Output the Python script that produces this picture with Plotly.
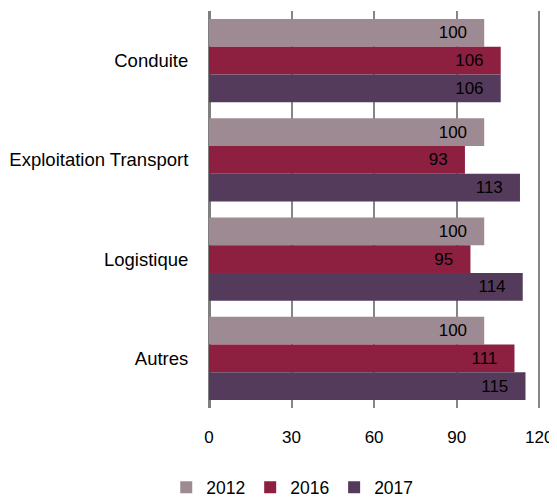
import plotly.graph_objects as go

categories = ["Conduite", "Exploitation Transport", "Logistique", "Autres"]
years = ["2012", "2016", "2017"]
values_2012 = [100, 100, 100, 100]
values_2016 = [106, 93, 95, 111]
values_2017 = [106, 113, 114, 115]
colors = ["#9e8a92", "#8d2041", "#553b5b"]
x_ticks = [0, 30, 60, 90, 120]

series = [values_2012, values_2016, values_2017]
pad = "\u00a0\u00a0\u00a0"
FONT = "Liberation Sans, Arial"

fig = go.Figure()
for name, vals, col in zip(years, series, colors):
    fig.add_trace(go.Bar(
        y=categories, x=vals, name=name, orientation="h",
        marker=dict(color=col, line=dict(width=0)),
        text=[f"{v}{pad}" for v in vals],
        textposition="inside", insidetextanchor="end",
        textfont=dict(color="black", size=17, family=FONT),
    ))

# page has an 8px body margin, so the figure is sized 8px smaller
fig.update_layout(
    width=549, height=489,
    margin=dict(l=201, r=15.25, t=3, b=89, autoexpand=False),
    barmode="group", bargap=0.16, bargroupgap=0,
    plot_bgcolor="white", paper_bgcolor="white",
    font=dict(family=FONT, size=17, color="black"),
    showlegend=True,
    legend=dict(orientation="h", x=0.25, xref="paper", xanchor="center",
                y=-0.2, yanchor="middle", traceorder="normal",
                font=dict(size=17.5), itemwidth=30),
)
fig.update_xaxes(
    range=[0, 121], tickvals=x_ticks, showgrid=True, gridcolor="#868686", gridwidth=2,
    zeroline=True, zerolinecolor="#7f7f7f", zerolinewidth=2.5,
    ticks="outside", ticklen=14, tickcolor="rgba(0,0,0,0)",
    tickfont=dict(size=17), automargin=False,
)
fig.update_yaxes(
    categoryorder="array", categoryarray=categories, autorange="reversed",
    showgrid=False, ticks="outside", ticklen=16, tickcolor="rgba(0,0,0,0)",
    tickfont=dict(size=18.5), automargin=False,
)
fig.write_html("out.html")
